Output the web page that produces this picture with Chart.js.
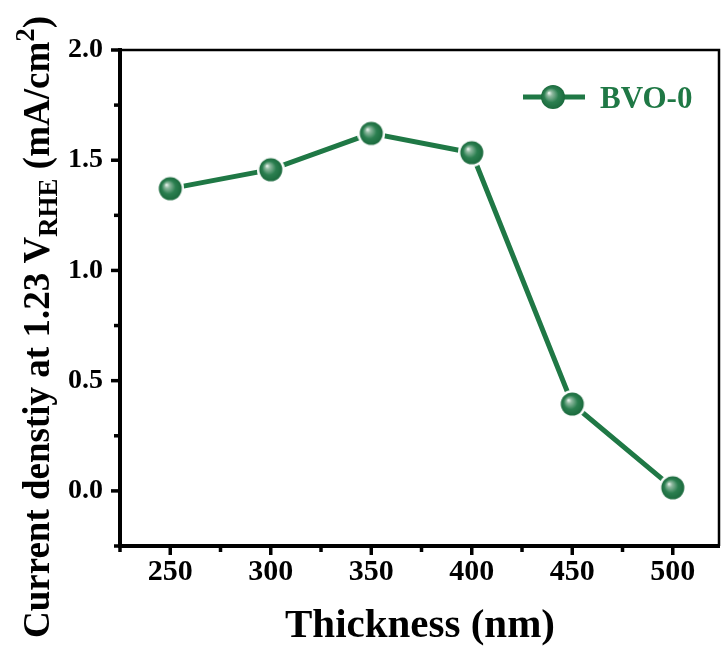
<!DOCTYPE html>
<html><head><meta charset="utf-8">
<script src="https://cdn.jsdelivr.net/npm/chart.js@4"></script>
<style>html,body{margin:0;padding:0;background:#fff}#wrap{width:721px;height:648px}</style>
</head><body><div id="wrap"><canvas id="c" width="721" height="648"></canvas></div>
<script>
const thickness = [250, 300, 350, 400, 450, 500];
const currentDensity = [1.371, 1.457, 1.622, 1.534, 0.394, 0.014];
const xTicks = [250, 300, 350, 400, 450, 500];
const yTicks = [0.0, 0.5, 1.0, 1.5, 2.0];
const seriesName = 'BVO-0';

const GREEN = '#1f7845';
const FONT = '"Liberation Serif", "Times New Roman", serif';

function sphere(r, halo) {
  const s = Math.ceil(2 * (r + halo));
  const c = document.createElement('canvas');
  c.width = s; c.height = s;
  const g = c.getContext('2d');
  const cx = s / 2;
  if (halo > 0) { g.fillStyle = '#fff'; g.beginPath(); g.arc(cx, cx, r + halo, 0, Math.PI * 2); g.fill(); }
  const grd = g.createRadialGradient(cx - r * 0.35, cx - r * 0.35, 0, cx, cx, r);
  grd.addColorStop(0, '#f4fbf6');
  grd.addColorStop(0.22, '#8fb9a0');
  grd.addColorStop(0.6, '#2b7f50');
  grd.addColorStop(1, '#1b6a3d');
  g.fillStyle = grd;
  g.beginPath(); g.arc(cx, cx, r, 0, Math.PI * 2); g.fill();
  return c;
}
const markerImg = sphere(11.5, 2.5);
const legendImg = sphere(12, 0);

const frame = {
  id: 'frame',
  afterDraw(chart) {
    const ctx = chart.ctx, a = chart.chartArea;
    const xs = chart.scales.x, ys = chart.scales.y;
    ctx.save();
    ctx.strokeStyle = '#000';
    ctx.lineWidth = 2.5;
    ctx.beginPath(); ctx.moveTo(a.left, a.top); ctx.lineTo(a.right, a.top); ctx.lineTo(a.right, a.bottom); ctx.stroke();
    ctx.lineWidth = 4;
    ctx.beginPath(); ctx.moveTo(a.left, a.top - 2); ctx.lineTo(a.left, a.bottom); ctx.lineTo(a.right + 1, a.bottom); ctx.stroke();
    ctx.lineWidth = 3.5;
    for (let v = 225; v <= 522; v += 25) {
      const px = xs.getPixelForValue(v);
      if (px < a.left - 1 || px > a.right + 1) continue;
      const major = (v % 50 === 0);
      ctx.beginPath(); ctx.moveTo(px, a.bottom); ctx.lineTo(px, a.bottom + (major ? 9 : 6)); ctx.stroke();
    }
    for (let v = -0.25; v <= 2.0001; v += 0.25) {
      const py = ys.getPixelForValue(v);
      const major = Math.abs(v * 2 - Math.round(v * 2)) < 1e-6;
      ctx.beginPath(); ctx.moveTo(a.left, py); ctx.lineTo(a.left - (major ? 9 : 6), py); ctx.stroke();
    }
    ctx.fillStyle = '#000';
    ctx.font = 'bold 41px ' + FONT;
    ctx.textAlign = 'center'; ctx.textBaseline = 'alphabetic';
    ctx.fillText('Thickness (nm)', 420, 637);
    const parts = [
      { t: 'Current denstiy at 1.23 V', size: 37, dy: 0 },
      { t: 'RHE', size: 27, dy: 8 },
      { t: ' (mA/cm', size: 37, dy: 0 },
      { t: '2', size: 27, dy: -15 },
      { t: ')', size: 37, dy: 0 }
    ];
    let total = 0;
    parts.forEach(p => { ctx.font = 'bold ' + p.size + 'px ' + FONT; p.w = ctx.measureText(p.t).width; total += p.w; });
    ctx.translate(49, 327);
    ctx.rotate(-Math.PI / 2);
    ctx.textAlign = 'left';
    let x = -total / 2;
    parts.forEach(p => { ctx.font = 'bold ' + p.size + 'px ' + FONT; ctx.fillText(p.t, x, p.dy); x += p.w; });
    ctx.restore();
    ctx.save();
    ctx.strokeStyle = GREEN; ctx.lineWidth = 5;
    ctx.beginPath(); ctx.moveTo(523, 97); ctx.lineTo(585, 97); ctx.stroke();
    ctx.drawImage(legendImg, 553 - 12, 97 - 12);
    ctx.fillStyle = GREEN;
    ctx.font = 'bold 31px ' + FONT;
    ctx.textAlign = 'left'; ctx.textBaseline = 'alphabetic';
    ctx.fillText(seriesName, 600, 108);
    ctx.restore();
  }
};

new Chart(document.getElementById('c'), {
  type: 'line',
  data: {
    datasets: [{
      label: seriesName,
      data: thickness.map((t, i) => ({ x: t, y: currentDensity[i] })),
      borderColor: GREEN,
      borderWidth: 5,
      pointStyle: markerImg,
      pointRadius: 14,
      tension: 0
    }]
  },
  options: {
    responsive: false,
    animation: false,
    devicePixelRatio: 1,
    layout: { padding: { top: 50, right: 2, left: 0, bottom: 0 } },
    plugins: { legend: { display: false }, tooltip: { enabled: false } },
    scales: {
      x: {
        type: 'linear', min: 225, max: 523,
        afterFit(s) { s.height = 102; s.paddingLeft = 0; s.paddingRight = 0; },
        afterBuildTicks(s) { s.ticks = xTicks.map(v => ({ value: v })); },
        grid: { display: false, drawTicks: false },
        border: { display: false },
        ticks: { color: '#000', font: { family: FONT, size: 30, weight: 'bold' }, padding: 8, maxRotation: 0 }
      },
      y: {
        min: -0.25, max: 2.0,
        afterFit(s) { s.width = 120; s.paddingTop = 0; s.paddingBottom = 0; },
        afterBuildTicks(s) { s.ticks = yTicks.map(v => ({ value: v })); },
        grid: { display: false, drawTicks: false },
        border: { display: false },
        ticks: { color: '#000', font: { family: FONT, size: 28, weight: 'bold' }, padding: 17,
          callback: v => Number(v).toFixed(1) }
      }
    }
  },
  plugins: [frame, {
    id: 'fixArea',
    afterLayout(chart) {
      // stretch the plot area to the frame seen in the reference
      const a = chart.chartArea, xs = chart.scales.x;
      const right = 719;
      a.right = right; a.width = right - a.left;
      xs.right = right; xs.width = right - xs.left;
      xs.configure();
    }
  }]
});
</script></body></html>
